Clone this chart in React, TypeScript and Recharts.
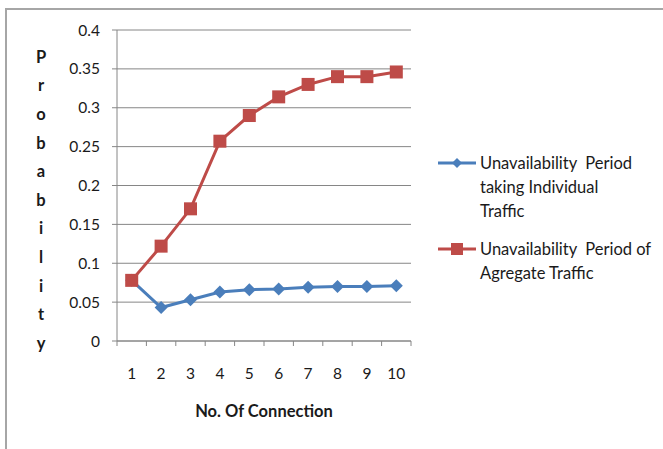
import { LineChart, Line, XAxis, YAxis, CartesianGrid, Legend } from 'recharts'

// connection counts on the x axis
const connections = [1, 2, 3, 4, 5, 6, 7, 8, 9, 10]
// probability of unavailability per connection count
const individualTraffic = [0.078, 0.043, 0.053, 0.063, 0.066, 0.067, 0.069, 0.07, 0.07, 0.071]
const aggregateTraffic = [0.078, 0.122, 0.17, 0.257, 0.29, 0.314, 0.33, 0.34, 0.34, 0.346]
const probabilityTicks = [0, 0.05, 0.1, 0.15, 0.2, 0.25, 0.3, 0.35, 0.4]

const yTitle = 'Probability'
const xTitle = 'No. Of Connection'
const individualLegend = ['Unavailability  Period', 'taking Individual', 'Traffic']
const aggregateLegend = ['Unavailability  Period of', 'Agregate Traffic']

const data = connections.map((n, i) => ({
  n,
  individual: individualTraffic[i],
  aggregate: aggregateTraffic[i],
}))

// tick marks sit between categories, labels sit on them
const boundaryTicks = [...connections.map((n) => n - 0.5), connections[connections.length - 1] + 0.5]
const xTicks = [...boundaryTicks, ...connections].sort((a, b) => a - b)

const FONT = 'Lato, "Open Sans", sans-serif'
const BLUE = '#4a7ebb'
const RED = '#be4b48'
const AXIS = '#868686'
const TEXT = '#1a1a1a'
const X_TICK_SIZE = 5
const X_TICK_MARGIN = 22

const XTick = (props: any) => {
  const { x, y, payload } = props
  const v = payload.value as number
  const axisY = y - X_TICK_SIZE - X_TICK_MARGIN
  if (!Number.isInteger(v)) {
    return <line x1={x} x2={x} y1={axisY} y2={axisY + X_TICK_SIZE} stroke={AXIS} />
  }
  return (
    <text x={x} y={y} dy="0.71em" textAnchor="middle" fill={TEXT} fontSize={15.5} fontFamily={FONT}>
      {v}
    </text>
  )
}

const VerticalTitle = () => (
  <text x={41} y={57} textAnchor="middle" fill={TEXT} fontSize={16.5} fontWeight="bold" fontFamily={FONT}>
    {yTitle.split('').map((ch, i) => (
      <tspan key={i} x={41} dy={i === 0 ? '0.35em' : 28.6}>
        {ch}
      </tspan>
    ))}
  </text>
)

const SquareDot = (props: any) => {
  const { cx, cy } = props
  return <rect x={cx - 6.5} y={cy - 6.5} width={13} height={13} fill={RED} />
}

const DiamondDot = (props: any) => {
  const { cx, cy } = props
  return <polygon points={`${cx},${cy - 6.5} ${cx + 6.5},${cy} ${cx},${cy + 6.5} ${cx - 6.5},${cy}`} fill={BLUE} />
}

const legendRows = [
  { key: 'individual', color: BLUE, lines: individualLegend, marker: 'diamond' },
  { key: 'aggregate', color: RED, lines: aggregateLegend, marker: 'square' },
]

const LegendContent = () => (
  <div style={{ fontFamily: FONT, fontSize: 16.5, color: TEXT, lineHeight: '24px' }}>
    {legendRows.map((row) => (
      <div key={row.key} style={{ display: 'flex', alignItems: 'flex-start', marginBottom: 14 }}>
        <svg width={42} height={24} style={{ flex: 'none' }}>
          <line x1={0} x2={38} y1={12} y2={12} stroke={row.color} strokeWidth={3} />
          {row.marker === 'square' ? (
            <rect x={13} y={6} width={12} height={12} fill={row.color} />
          ) : (
            <polygon points="19,7 24,12 19,17 14,12" fill={row.color} />
          )}
        </svg>
        <div style={{ whiteSpace: 'pre' }}>
          {row.lines.map((l, i) => (
            <div key={i}>{l}</div>
          ))}
        </div>
      </div>
    ))}
  </div>
)

export default function App() {
  return (
    <div style={{ position: 'fixed', left: 0, top: 0, width: 663, height: 449, overflow: 'hidden', background: '#fff' }}>
      <div
        style={{
          position: 'absolute',
          left: 5,
          top: 8,
          width: 720,
          height: 500,
          borderLeft: '2px solid #a6a6a6',
          borderTop: '2px solid #a6a6a6',
        }}
      />
      <div style={{ position: 'absolute', left: 0, top: 0 }}>
        <LineChart width={663} height={449} data={data} margin={{ top: 30, right: 252, left: 0, bottom: 0 }}>
          <CartesianGrid vertical={false} stroke={AXIS} />
          <XAxis
            dataKey="n"
            type="number"
            domain={[0.5, 10.5]}
            ticks={xTicks}
            interval={0}
            height={108}
            tickLine={false}
            tickSize={X_TICK_SIZE}
            tickMargin={X_TICK_MARGIN}
            tick={<XTick />}
            stroke={AXIS}
            label={{
              value: xTitle,
              position: 'insideTop',
              offset: 64,
              fill: TEXT,
              fontSize: 16.5,
              fontWeight: 'bold',
              fontFamily: FONT,
            }}
          />
          <YAxis
            width={117}
            domain={[0, 0.4]}
            ticks={probabilityTicks}
            interval={0}
            tickSize={5}
            tickMargin={12}
            stroke={AXIS}
            tick={{ fill: TEXT, fontSize: 15.5, fontFamily: FONT }}
            label={{ content: () => <VerticalTitle /> }}
          />
          <Legend
            layout="vertical"
            align="center"
            verticalAlign="middle"
            wrapperStyle={{ left: 438, top: 151, width: 225 }}
            content={() => <LegendContent />}
          />
          <Line
            dataKey="individual"
            stroke={BLUE}
            strokeWidth={3}
            dot={<DiamondDot />}
            isAnimationActive={false}
          />
          <Line
            dataKey="aggregate"
            stroke={RED}
            strokeWidth={3}
            dot={<SquareDot />}
            isAnimationActive={false}
          />
        </LineChart>
      </div>
    </div>
  )
}
